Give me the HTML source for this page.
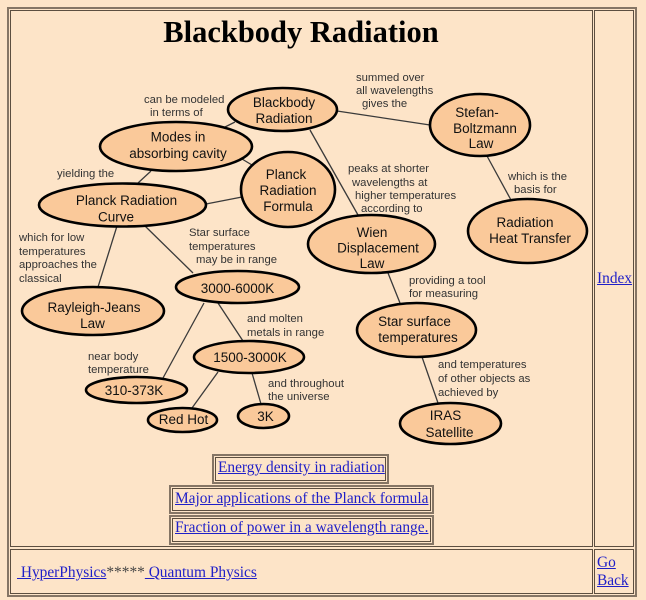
<!DOCTYPE html>
<html>
<head>
<meta charset="utf-8">
<style>
  html,body{margin:0;padding:0;}
  body{width:646px;height:600px;background:#FDE4C8;position:relative;overflow:hidden;}
  .box{position:absolute;box-sizing:border-box;}
  .outer{border:2px solid #857565;}
  .cell{border:1px solid #5c4e40;}
  .t{position:absolute;font-family:"Liberation Serif",serif;font-size:15.4px;line-height:18px;white-space:nowrap;color:#444;}
  .t a{color:#1f1fc8;text-decoration:underline;}
  svg{position:absolute;left:0;top:0;}
</style>
</head>
<body>
<!-- main table frame -->
<div class="box outer" style="left:7px;top:7px;width:630px;height:590px;"></div>
<div class="box cell" style="left:10px;top:10px;width:583px;height:537px;"></div>
<div class="box cell" style="left:594px;top:10px;width:40px;height:537px;"></div>
<div class="box cell" style="left:10px;top:549px;width:583px;height:45px;"></div>
<div class="box cell" style="left:594px;top:549px;width:40px;height:45px;"></div>

<!-- link boxes -->
<div class="box outer" style="left:212px;top:454px;width:177px;height:30px;"></div>
<div class="box cell" style="left:215px;top:457px;width:171px;height:24px;"></div>
<div class="box outer" style="left:169px;top:485px;width:265px;height:29px;"></div>
<div class="box cell" style="left:172px;top:488px;width:259px;height:23px;"></div>
<div class="box outer" style="left:169px;top:515px;width:265px;height:30px;"></div>
<div class="box cell" style="left:172px;top:518px;width:259px;height:24px;"></div>

<div class="t" style="left:218px;top:459px;"><a>Energy density in radiation</a></div>
<div class="t" style="left:175px;top:490px;"><a>Major applications of the Planck formula</a></div>
<div class="t" style="left:175px;top:519px;"><a>Fraction of power in a wavelength range.</a></div>

<div class="t" style="left:597px;top:270px;"><a>Index</a></div>
<div class="t" style="left:17px;top:564px;"><a>&nbsp;HyperPhysics</a>*****<a>&nbsp;Quantum Physics</a></div>
<div class="t" style="left:597px;top:554px;"><a>Go</a></div>
<div class="t" style="left:597px;top:572px;"><a>Back</a></div>

<svg width="646" height="600" viewBox="0 0 646 600" xmlns="http://www.w3.org/2000/svg">
  <text x="301" y="42" text-anchor="middle" font-family="Liberation Serif, serif" font-weight="bold" font-size="30.5" fill="#000">Blackbody Radiation</text>

  <g stroke="#3a3a3a" stroke-width="1.3" fill="none">
    <line x1="235" y1="122" x2="225" y2="127"/>
    <line x1="242" y1="159" x2="252" y2="165"/>
    <line x1="151" y1="171" x2="138" y2="183"/>
    <line x1="206" y1="204" x2="242" y2="197"/>
    <line x1="310" y1="130" x2="358" y2="215"/>
    <line x1="337" y1="111" x2="430" y2="125"/>
    <line x1="487" y1="156" x2="511" y2="200"/>
    <line x1="388" y1="273" x2="400" y2="303"/>
    <line x1="422" y1="357" x2="438" y2="403"/>
    <line x1="117" y1="226" x2="98" y2="287"/>
    <line x1="145" y1="226" x2="193" y2="273"/>
    <line x1="204" y1="303" x2="163" y2="378"/>
    <line x1="218" y1="303" x2="243" y2="341"/>
    <line x1="218" y1="372" x2="192" y2="408"/>
    <line x1="252" y1="373" x2="261" y2="404"/>
  </g>

  <g fill="#FAC99A" stroke="#000" stroke-width="2.6">
    <ellipse cx="282.5" cy="109.5" rx="54.5" ry="21.5"/>
    <ellipse cx="176" cy="146.5" rx="76" ry="24.5"/>
    <ellipse cx="288" cy="189.5" rx="47" ry="37.5"/>
    <ellipse cx="122.5" cy="205" rx="83.5" ry="21.5"/>
    <ellipse cx="480" cy="125" rx="50" ry="31"/>
    <ellipse cx="527.5" cy="231" rx="59.5" ry="32"/>
    <ellipse cx="371.5" cy="244" rx="63.5" ry="29"/>
    <ellipse cx="416.5" cy="330" rx="59.5" ry="27"/>
    <ellipse cx="450.5" cy="423.5" rx="50.5" ry="20.5"/>
    <ellipse cx="93" cy="311" rx="71" ry="24"/>
    <ellipse cx="237.5" cy="287" rx="61.5" ry="16"/>
    <ellipse cx="249" cy="357" rx="55" ry="16"/>
    <ellipse cx="136.5" cy="390" rx="50.5" ry="13"/>
    <ellipse cx="182.5" cy="420" rx="34.5" ry="12"/>
    <ellipse cx="263.5" cy="416" rx="25.5" ry="12"/>
  </g>

  <g font-family="Liberation Sans, Arial, sans-serif" font-size="13.5" fill="#111" text-anchor="middle">
    <text x="284" y="107">Blackbody</text>
    <text x="284" y="123">Radiation</text>
    <text x="178" y="141.5">Modes in</text>
    <text x="178" y="158">absorbing cavity</text>
    <text x="286" y="179">Planck</text>
    <text x="288" y="195">Radiation</text>
    <text x="288" y="211">Formula</text>
    <text x="126.5" y="205">Planck Radiation</text>
    <text x="116" y="221.5">Curve</text>
    <text x="477" y="117">Stefan-</text>
    <text x="485" y="133">Boltzmann</text>
    <text x="481" y="148">Law</text>
    <text x="525" y="227">Radiation</text>
    <text x="530" y="243">Heat Transfer</text>
    <text x="372" y="237">Wien</text>
    <text x="378" y="252.5">Displacement</text>
    <text x="372" y="268">Law</text>
    <text x="414.5" y="326">Star surface</text>
    <text x="418" y="342">temperatures</text>
    <text x="445.5" y="420">IRAS</text>
    <text x="449.5" y="437">Satellite</text>
    <text x="94" y="312">Rayleigh-Jeans</text>
    <text x="92.5" y="328">Law</text>
    <text x="237.5" y="293">3000-6000K</text>
    <text x="250" y="362">1500-3000K</text>
    <text x="134" y="395">310-373K</text>
    <text x="183.5" y="424">Red Hot</text>
    <text x="265.5" y="421">3K</text>
  </g>

  <g font-family="Liberation Sans, Arial, sans-serif" font-size="11.3" fill="#333">
    <text x="144" y="103">can be modeled</text>
    <text x="150" y="116">in terms of</text>
    <text x="57" y="177">yielding the</text>
    <text x="356" y="81">summed over</text>
    <text x="356" y="94">all wavelengths</text>
    <text x="362" y="107">gives the</text>
    <text x="348" y="172">peaks at shorter</text>
    <text x="352" y="186">wavelengths at</text>
    <text x="355" y="199">higher temperatures</text>
    <text x="361" y="212">according to</text>
    <text x="508" y="180">which is the</text>
    <text x="514" y="193">basis for</text>
    <text x="19" y="241">which for low</text>
    <text x="19" y="255">temperatures</text>
    <text x="19" y="268">approaches the</text>
    <text x="19" y="282">classical</text>
    <text x="189" y="236">Star surface</text>
    <text x="189" y="250">temperatures</text>
    <text x="196" y="263">may be in range</text>
    <text x="247" y="322">and molten</text>
    <text x="247" y="336">metals in range</text>
    <text x="88" y="360">near body</text>
    <text x="88" y="373">temperature</text>
    <text x="268" y="387">and throughout</text>
    <text x="268" y="400">the universe</text>
    <text x="409" y="284">providing a tool</text>
    <text x="409" y="297">for measuring</text>
    <text x="438" y="368">and temperatures</text>
    <text x="438" y="382">of other objects as</text>
    <text x="438" y="396">achieved by</text>
  </g>
</svg>
</body>
</html>
